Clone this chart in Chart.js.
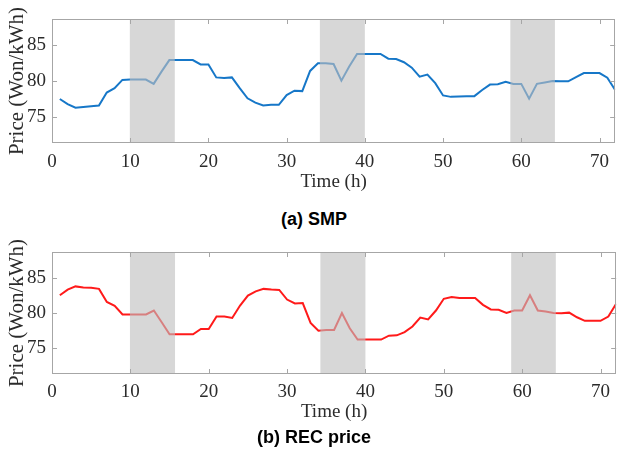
<!DOCTYPE html>
<html><head><meta charset="utf-8">
<script src="https://cdn.jsdelivr.net/npm/chart.js@4.4.1/dist/chart.umd.min.js"></script>
<style>
html,body{margin:0;padding:0;background:#fff;}
#wrap{position:relative;width:617px;height:455px;overflow:hidden;background:#fff;}
.cv{position:absolute;left:0;width:617px;height:200px;}
.cv canvas{display:block;}
.cap{position:absolute;left:0;width:628px;text-align:center;font:bold 18px "Liberation Sans",Arial,sans-serif;line-height:20px;color:#000;}
</style></head><body>
<div id="wrap">
<div class="cv" style="top:0px"><canvas id="c1" width="617" height="200" style="width:617px;height:200px"></canvas></div>
<div class="cap" style="top:209px">(a) SMP</div>
<div class="cv" style="top:230px"><canvas id="c2" width="617" height="200" style="width:617px;height:200px"></canvas></div>
<div class="cap" style="top:427px">(b) REC price</div>
</div>
<script>
const hours = [1,2,3,4,5,6,7,8,9,10,11,12,13,14,15,16,17,18,19,20,21,22,23,24,25,26,27,28,29,30,31,32,33,34,35,36,
  37,38,39,40,41,42,43,44,45,46,47,48,49,50,51,52,53,54,55,56,57,58,59,60,61,62,63,64,65,66,67,68,69,70,71,72];
const smp = [77.5,76.8,76.3,76.4,76.5,76.6,78.4,79.0,80.15,80.2,80.2,80.2,79.6,81.3,82.9,82.9,82.9,82.9,82.3,82.3,
  80.5,80.4,80.5,79.0,77.6,77.0,76.6,76.7,76.7,78.05,78.65,78.6,81.4,82.45,82.45,82.35,80.05,82.0,83.75,83.75,
  83.75,83.75,83.1,83.05,82.6,81.85,80.6,80.9,79.7,78.0,77.8,77.85,77.9,77.9,78.75,79.5,79.55,79.9,79.6,79.6,
  77.55,79.6,79.8,80.0,79.95,79.95,80.55,81.1,81.1,81.1,80.45,78.75];
const rec = [82.5,83.3,83.75,83.6,83.55,83.4,81.55,81.0,79.8,79.8,79.8,79.8,80.35,78.7,77.0,77.0,77.0,77.0,77.75,77.75,
  79.5,79.5,79.3,81.05,82.45,83.05,83.4,83.3,83.25,81.9,81.35,81.4,78.6,77.5,77.6,77.6,80.0,77.85,76.25,76.25,
  76.25,76.25,76.8,76.85,77.3,78.1,79.35,79.1,80.35,82.0,82.25,82.1,82.1,82.1,81.15,80.5,80.45,80.0,80.35,80.35,
  82.5,80.35,80.2,80.0,79.95,80.05,79.4,78.9,78.9,78.9,79.5,81.3];
const xTicks = [0,10,20,30,40,50,60,70];
const yTicks = [75,80,85];
const shadeStart = [9.95,34.25,58.6];
const shadeEnd = [15.7,40,64.3];
const xTitle = 'Time (h)';
const yTitle = 'Price (Won/kWh)';

const frame = {
  id: 'frame',
  afterDatasetsDraw(chart) {
    const {ctx, chartArea: a, scales: {x, y}} = chart;
    ctx.save();
    ctx.fillStyle = 'rgba(190,190,190,0.62)';
    shadeStart.forEach((s, i) => {
      const x0 = x.getPixelForValue(s), x1 = x.getPixelForValue(shadeEnd[i]);
      ctx.fillRect(x0, a.top, x1 - x0, a.bottom - a.top);
    });
    ctx.strokeStyle = '#a6a6a6';
    ctx.lineWidth = 1;
    ctx.strokeRect(Math.round(a.left) + 0.5, Math.round(a.top) + 0.5, Math.round(a.right - a.left) - 1, Math.round(a.bottom - a.top) - 1);
    ctx.beginPath();
    xTicks.forEach(v => {
      const p = Math.round(x.getPixelForValue(v)) + 0.5;
      ctx.moveTo(p, a.top); ctx.lineTo(p, a.top + 5);
      ctx.moveTo(p, a.bottom); ctx.lineTo(p, a.bottom - 5);
    });
    yTicks.forEach(v => {
      const p = Math.round(y.getPixelForValue(v)) + 0.5;
      ctx.moveTo(a.left, p); ctx.lineTo(a.left + 5, p);
      ctx.moveTo(a.right, p); ctx.lineTo(a.right - 5, p);
    });
    ctx.stroke();
    ctx.restore();
  }
};

function makeChart(id, values, color, padTop, xHeight, tickPad, titlePad) {
  const serif = '"Liberation Serif","Times New Roman",serif';
  return new Chart(document.getElementById(id), {
    type: 'line',
    data: {
      datasets: [{
        data: hours.map((h, i) => ({x: h, y: values[i]})),
        borderColor: color,
        borderWidth: 2,
        pointRadius: 0,
        tension: 0,
        fill: false
      }]
    },
    options: {
      responsive: false,
      animation: false,
      devicePixelRatio: 1,
      layout: {padding: {top: padTop, left: 0, right: 0, bottom: 0}},
      plugins: {legend: {display: false}, tooltip: {enabled: false}},
      scales: {
        x: {
          type: 'linear', min: 0, max: 72,
          afterBuildTicks: s => { s.ticks = xTicks.map(v => ({value: v})); },
          afterFit: s => { s.height = xHeight; },
          grid: {display: false, drawTicks: false},
          border: {display: false},
          ticks: {font: {family: serif, size: 19}, color: '#2b2b2b', padding: tickPad, maxRotation: 0, autoSkip: false},
          title: {display: true, text: xTitle, font: {family: serif, size: 19}, color: '#2b2b2b', padding: {top: 0, bottom: titlePad}}
        },
        y: {
          min: 71.4, max: 88.6,
          afterBuildTicks: s => { s.ticks = yTicks.map(v => ({value: v})); },
          afterFit: s => { s.width = 52; },
          grid: {display: false, drawTicks: false},
          border: {display: false},
          ticks: {font: {family: serif, size: 19}, color: '#2b2b2b', padding: 6},
          title: {display: true, text: yTitle, font: {family: serif, size: 21}, color: '#2b2b2b', padding: {top: 5, bottom: 0}}
        }
      }
    },
    plugins: [frame]
  });
}

makeChart('c1', smp, '#1677c8', 19, 57, 8, 6.6);
makeChart('c2', rec, '#ff1a1a', 22, 56, 7, 6.9);
</script>
</body></html>
